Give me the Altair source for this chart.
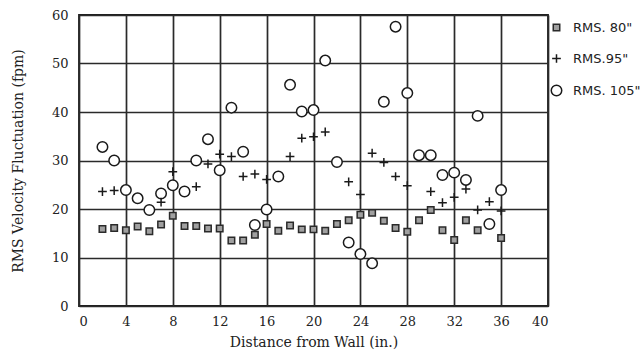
import altair as alt
import pandas as pd

series_names = ["RMS. 80\"", "RMS.95\"", "RMS. 105\""]

rms80_x = list(range(2, 35)) + [36]
rms80_y = [15.9, 16.1, 15.6, 16.4, 15.4, 16.8, 18.6, 16.5, 16.5, 16.0, 16.0, 13.5, 13.5,
           14.7, 16.9, 15.5, 16.6, 15.8, 15.8, 15.5, 16.9, 17.7, 18.8, 19.2, 17.6, 16.1,
           15.3, 17.7, 19.8, 15.6, 13.6, 17.7, 15.6, 14.0]

rms95_x = [2, 3, 7, 8, 10, 11, 12, 13, 14, 15, 16, 18, 19, 20, 21, 23, 24, 25, 26, 27,
           28, 30, 31, 32, 33, 34, 35, 36]
rms95_y = [23.6, 23.8, 21.4, 27.7, 24.6, 29.3, 31.3, 30.8, 26.7, 27.2, 26.1, 30.8, 34.6,
           34.9, 35.9, 25.6, 23.0, 31.5, 29.6, 26.7, 24.8, 23.6, 21.3, 22.4, 24.1, 19.8,
           21.5, 19.6]

rms105_x = list(range(2, 37))
rms105_y = [32.8, 30.0, 23.9, 22.2, 19.8, 23.2, 24.9, 23.6, 30.0, 34.4, 28.0, 40.9, 31.8,
            16.7, 19.9, 26.7, 45.6, 40.1, 40.4, 50.6, 29.7, 13.1, 10.7, 8.8, 42.1, 57.6,
            43.9, 31.1, 31.1, 27.0, 27.5, 26.0, 39.2, 16.9, 23.9]

x_ticks = list(range(0, 41, 4))
y_ticks = list(range(0, 61, 10))

rows = []
for xs, ys, name, ordv in [(rms105_x, rms105_y, series_names[2], 0),
                           (rms95_x, rms95_y, series_names[1], 1),
                           (rms80_x, rms80_y, series_names[0], 2)]:
    for xv, yv in zip(xs, ys):
        rows.append({"x": xv, "y": yv, "series": name, "ord": ordv})
df = pd.DataFrame(rows)

shapes = ["square", "M-1,0H1M0,-1V1", "circle"]
fills = ["#a0a0a0", "transparent", "#ffffff"]
strokes = ["#2a2a2a", "#1a1a1a", "#1a1a1a"]
sizes = [42, 110, 135]

chart = alt.Chart(df).mark_point(filled=False, opacity=1, strokeWidth=1.5).encode(
    x=alt.X("x:Q", scale=alt.Scale(domain=[0, 40], nice=False),
            axis=alt.Axis(values=x_ticks, title="Distance from Wall (in.)",
                          labelPadding=9, titlePadding=7)),
    y=alt.Y("y:Q", scale=alt.Scale(domain=[0, 60], nice=False),
            axis=alt.Axis(values=y_ticks, title="RMS Velocity Fluctuation (fpm)",
                          labelPadding=11, titlePadding=26)),
    shape=alt.Shape("series:N", title=None,
                    scale=alt.Scale(domain=series_names, range=shapes)),
    fill=alt.Fill("series:N", title=None,
                  scale=alt.Scale(domain=series_names, range=fills)),
    stroke=alt.Stroke("series:N", title=None,
                      scale=alt.Scale(domain=series_names, range=strokes)),
    size=alt.Size("series:N", title=None,
                  scale=alt.Scale(domain=series_names, range=sizes)),
    order=alt.Order("ord:Q"),
).properties(
    width=469, height=291,
    autosize=alt.AutoSizeParams(type="none"),
    padding={"left": 79, "top": 15, "right": 96, "bottom": 48},
    background="white",
).configure_view(
    stroke="#1e1e1e", strokeWidth=1.8
).configure_axis(
    labelFont="DejaVu Serif", titleFont="DejaVu Serif",
    labelFontSize=13, titleFontSize=14, titleFontWeight="normal",
    labelColor="#222", titleColor="#222",
    grid=True, gridColor="#2a2a2a", gridWidth=1.7, gridOpacity=1,
    ticks=False, domain=False,
).configure_legend(
    orient="none", legendX=471, legendY=6, padding=0,
    labelFont="DejaVu Sans", labelFontSize=13, labelColor="#222",
    labelOffset=10, rowPadding=16, symbolStrokeWidth=1.5,
)

chart.save("out.html", embed_options={"renderer": "svg", "actions": False})
